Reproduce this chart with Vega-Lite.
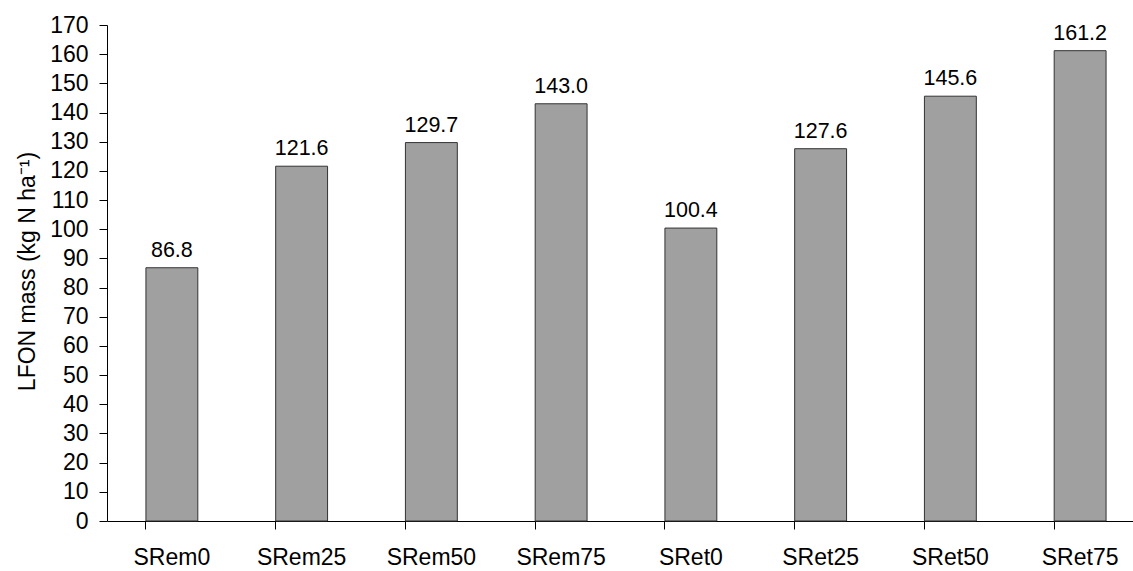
{
  "$schema": "https://vega.github.io/schema/vega-lite/v6.json",
  "width": 1038,
  "height": 496,
  "autosize": "none",
  "padding": {"left": 107, "top": 25, "right": 0, "bottom": 50},
  "config": {"view": {"stroke": null}, "font": "Liberation Sans"},
  "data": {"values": [
    {"treatment": "SRem0", "mass": 86.8},
    {"treatment": "SRem25", "mass": 121.6},
    {"treatment": "SRem50", "mass": 129.7},
    {"treatment": "SRem75", "mass": 143.0},
    {"treatment": "SRet0", "mass": 100.4},
    {"treatment": "SRet25", "mass": 127.6},
    {"treatment": "SRet50", "mass": 145.6},
    {"treatment": "SRet75", "mass": 161.2}
  ]},
  "encoding": {
    "x": {
      "field": "treatment", "type": "nominal", "sort": null,
      "scale": {"paddingInner": 0.6, "paddingOuter": 0.3},
      "axis": {"title": null, "labelAngle": 0, "domainColor": "black", "tickColor": "black", "tickSize": 8, "bandPosition": 0, "labelFontSize": 23, "labelColor": "black", "labelPadding": 17}
    },
    "y": {
      "field": "mass", "type": "quantitative",
      "scale": {"domain": [0, 170], "nice": false},
      "axis": {
        "title": "LFON mass (kg N ha⁻¹)",
        "values": [0,10,20,30,40,50,60,70,80,90,100,110,120,130,140,150,160,170],
        "grid": false, "domainColor": "black", "tickColor": "black", "tickSize": 8,
        "labelFontSize": 23, "labelColor": "black", "labelPadding": 11,
        "titleFontSize": 23, "titleFontWeight": "normal", "titleColor": "black",
        "titleAngle": -90, "titleBaseline": "middle", "titleX": -80, "titleY": 246, "titleAlign": "center"
      }
    }
  },
  "layer": [
    {"mark": {"type": "bar", "fill": "#a0a0a0", "stroke": "#333333", "strokeWidth": 1}},
    {"mark": {"type": "text", "baseline": "alphabetic", "dy": -11, "fontSize": 21.5, "color": "black"},
     "encoding": {"text": {"field": "mass", "type": "quantitative", "format": ".1f"}}}
  ]
}
